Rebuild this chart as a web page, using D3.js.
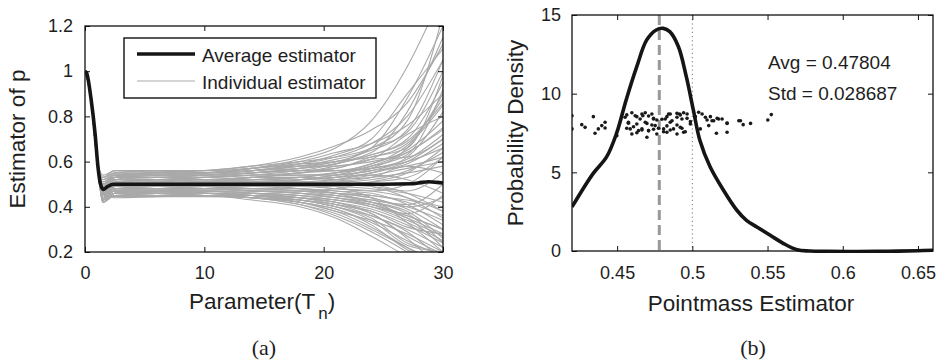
<!DOCTYPE html>
<html><head><meta charset="utf-8">
<script src="https://cdn.jsdelivr.net/npm/d3@7/dist/d3.min.js"></script>
<style>
body{margin:0;background:#fff;}
svg{display:block;}
text{font-family:"Liberation Sans",Arial,Helvetica,sans-serif;fill:#1e1e1e;}
</style></head>
<body>
<svg id="chart" width="936" height="362"></svg>
<script>
// ---------- Panel (a) data ----------
const aXTicks = [0, 10, 20, 30];
const aYTicks = [0.2, 0.4, 0.6, 0.8, 1, 1.2];
const aYTickLabels = ["0.2", "0.4", "0.6", "0.8", "1", "1.2"];
const avgX = [0, 0.15, 0.5, 0.85, 1.1, 1.3, 1.55, 1.9, 2.4, 5, 10, 15, 20, 25, 27.5, 28.2, 28.8, 29.5, 30];
const avgY = [1.0, 0.99, 0.88, 0.72, 0.57, 0.5, 0.477, 0.49, 0.5, 0.5, 0.5, 0.5, 0.5, 0.5, 0.502, 0.508, 0.511, 0.508, 0.505];
// shared start of every individual estimator
const indStartX = [0, 0.5, 0.9];
const indStartY = [1.0, 0.88, 0.66];
// sample positions for individual estimator values
const indX = [1.5, 2.5, 6, 10, 14, 18, 21, 24, 27, 30];
const individual = [
[0.53,0.55,0.55,0.55,0.57,0.61,0.66,0.78,1.02,1.35],
[0.52,0.54,0.55,0.56,0.58,0.60,0.62,0.66,0.78,1.25],
[0.50,0.55,0.56,0.55,0.56,0.58,0.61,0.65,0.74,1.05],
[0.49,0.54,0.54,0.55,0.57,0.59,0.60,0.64,0.82,1.15],
[0.51,0.53,0.55,0.54,0.55,0.57,0.59,0.63,0.70,0.95],
[0.48,0.53,0.54,0.54,0.55,0.57,0.60,0.62,0.68,0.88],
[0.50,0.52,0.53,0.54,0.56,0.58,0.58,0.61,0.72,0.80],
[0.47,0.53,0.53,0.53,0.54,0.56,0.57,0.62,0.66,0.98],
[0.49,0.52,0.54,0.53,0.54,0.55,0.58,0.60,0.64,0.75],
[0.46,0.52,0.52,0.53,0.55,0.56,0.56,0.59,0.67,0.85],
[0.48,0.52,0.53,0.52,0.53,0.55,0.57,0.61,0.62,0.70],
[0.47,0.51,0.52,0.53,0.54,0.54,0.55,0.58,0.63,0.92],
[0.45,0.51,0.52,0.52,0.53,0.55,0.56,0.57,0.60,0.66],
[0.46,0.51,0.51,0.52,0.52,0.53,0.55,0.59,0.65,0.78],
[0.47,0.50,0.52,0.51,0.53,0.54,0.54,0.56,0.58,0.62],
[0.44,0.51,0.51,0.51,0.52,0.53,0.55,0.57,0.61,0.72],
[0.46,0.50,0.51,0.52,0.51,0.52,0.53,0.55,0.59,0.68],
[0.45,0.50,0.50,0.51,0.52,0.53,0.52,0.54,0.57,0.60],
[0.44,0.50,0.51,0.50,0.51,0.52,0.54,0.56,0.62,0.82],
[0.45,0.49,0.50,0.51,0.51,0.51,0.52,0.53,0.55,0.58],
[0.46,0.50,0.50,0.50,0.51,0.52,0.53,0.57,0.64,0.74],
[0.43,0.49,0.50,0.50,0.50,0.51,0.51,0.52,0.56,0.64],
[0.44,0.49,0.49,0.50,0.51,0.50,0.52,0.55,0.60,0.70],
[0.45,0.50,0.50,0.50,0.50,0.50,0.51,0.53,0.58,0.55],
[0.43,0.49,0.50,0.49,0.50,0.51,0.50,0.51,0.53,0.62],
[0.51,0.54,0.55,0.55,0.56,0.58,0.60,0.66,0.88,1.20],
[0.52,0.55,0.54,0.55,0.56,0.59,0.63,0.70,0.90,1.10],
[0.50,0.53,0.54,0.55,0.57,0.60,0.64,0.68,0.76,0.90],
[0.48,0.53,0.54,0.54,0.56,0.57,0.59,0.66,0.73,1.00],
[0.49,0.54,0.53,0.54,0.55,0.56,0.59,0.63,0.69,0.86],
[0.42,0.45,0.45,0.45,0.43,0.40,0.35,0.27,0.18,0.10],
[0.42,0.46,0.45,0.45,0.44,0.41,0.37,0.30,0.22,0.15],
[0.43,0.45,0.46,0.45,0.44,0.42,0.39,0.33,0.25,0.18],
[0.43,0.46,0.46,0.46,0.45,0.42,0.38,0.34,0.28,0.20],
[0.44,0.46,0.46,0.45,0.44,0.43,0.40,0.36,0.30,0.22],
[0.42,0.46,0.47,0.46,0.45,0.43,0.41,0.37,0.26,0.12],
[0.44,0.47,0.46,0.46,0.46,0.44,0.42,0.39,0.33,0.25],
[0.43,0.46,0.47,0.47,0.45,0.44,0.41,0.38,0.31,0.28],
[0.45,0.47,0.47,0.46,0.46,0.45,0.43,0.40,0.35,0.22],
[0.44,0.47,0.47,0.47,0.46,0.45,0.44,0.41,0.36,0.30],
[0.45,0.47,0.48,0.47,0.47,0.46,0.44,0.42,0.38,0.26],
[0.44,0.48,0.47,0.48,0.47,0.46,0.45,0.43,0.40,0.34],
[0.45,0.48,0.48,0.47,0.47,0.47,0.46,0.44,0.39,0.30],
[0.46,0.48,0.48,0.48,0.48,0.47,0.45,0.42,0.37,0.24],
[0.45,0.48,0.49,0.48,0.48,0.47,0.46,0.45,0.42,0.36],
[0.46,0.49,0.48,0.49,0.48,0.48,0.47,0.46,0.41,0.32],
[0.45,0.49,0.49,0.49,0.49,0.48,0.47,0.45,0.43,0.40],
[0.46,0.49,0.49,0.49,0.49,0.49,0.48,0.47,0.44,0.38],
[0.44,0.48,0.49,0.49,0.48,0.48,0.46,0.44,0.40,0.44],
[0.46,0.49,0.49,0.50,0.49,0.49,0.49,0.48,0.46,0.42],
[0.43,0.45,0.45,0.46,0.44,0.42,0.39,0.32,0.21,0.14],
[0.42,0.45,0.46,0.45,0.45,0.43,0.40,0.35,0.24,0.20],
[0.43,0.46,0.45,0.46,0.44,0.43,0.41,0.36,0.29,0.16],
[0.44,0.46,0.46,0.46,0.45,0.44,0.42,0.38,0.32,0.24],
[0.44,0.47,0.46,0.47,0.46,0.44,0.43,0.40,0.34,0.27],
[0.45,0.47,0.47,0.47,0.46,0.45,0.43,0.41,0.37,0.45],
[0.45,0.48,0.48,0.48,0.47,0.46,0.45,0.43,0.41,0.50],
[0.43,0.46,0.46,0.46,0.45,0.43,0.40,0.34,0.23,0.20],
[0.44,0.47,0.47,0.46,0.45,0.44,0.42,0.37,0.27,0.19],
[0.46,0.48,0.48,0.48,0.47,0.46,0.44,0.41,0.35,0.28],
[0.48,0.52,0.52,0.51,0.50,0.48,0.46,0.42,0.36,0.30],
[0.45,0.48,0.48,0.49,0.50,0.52,0.54,0.58,0.66,0.90],
[0.50,0.53,0.53,0.52,0.51,0.50,0.48,0.47,0.50,0.62],
[0.44,0.47,0.47,0.48,0.49,0.50,0.51,0.49,0.44,0.35],
[0.49,0.52,0.52,0.52,0.52,0.51,0.49,0.44,0.33,0.20],
[0.54,0.56,0.56,0.56,0.57,0.59,0.62,0.68,0.80,1.05],
[0.53,0.56,0.555,0.56,0.58,0.62,0.67,0.74,0.86,1.12],
[0.47,0.445,0.445,0.445,0.44,0.42,0.38,0.31,0.22,0.12],
[0.46,0.44,0.445,0.45,0.44,0.41,0.36,0.29,0.20,0.10],
[0.48,0.51,0.51,0.51,0.51,0.51,0.50,0.49,0.47,0.55],
[0.47,0.50,0.505,0.51,0.52,0.52,0.53,0.54,0.52,0.46],
[0.49,0.51,0.52,0.52,0.53,0.53,0.52,0.50,0.46,0.38],
[0.46,0.49,0.48,0.49,0.47,0.47,0.48,0.51,0.55,0.66]
];
const legendLabels = ["Average estimator", "Individual estimator"];

// ---------- Panel (b) data ----------
const bXTicks = [0.45, 0.5, 0.55, 0.6, 0.65];
const bXTickLabels = ["0.45", "0.5", "0.55", "0.6", "0.65"];
const bYTicks = [0, 5, 10, 15];
const densX = [0.42,0.434,0.443,0.4496,0.456,0.463,0.4696,0.476,0.4807,0.485,0.4907,0.496,0.5007,0.505,0.5118,0.5207,0.5296,0.536,0.5429,0.5518,0.5607,0.5696,0.578,0.59,0.61,0.63,0.65,0.66];
const densY = [2.8,4.92,5.98,7.47,9.6,11.7,13.4,14.05,14.15,13.94,13.0,11.08,8.95,7.04,5.35,3.86,2.59,1.95,1.53,1.0,0.47,0.08,0.0,-0.02,-0.03,-0.02,0.02,0.05];
const dotX = [0.42,0.42,0.4265,0.4287,0.4342,0.4353,0.4375,0.4398,0.442,0.442,0.4498,0.4553,0.4575,0.4587,0.462,0.4631,0.4653,0.4642,0.4598,
0.4671,0.4687,0.4665,0.4709,0.4731,0.4742,0.4753,0.4698,0.4764,0.482,0.4842,0.4853,0.4809,0.4831,0.4875,0.4898,0.4915,0.4931,0.492,0.4898,0.4942,0.4965,0.4987,0.5042,0.5087,0.5109,0.5131,0.5053,
0.5142,0.5175,0.5198,0.516,0.5231,0.5231,0.5309,0.5338,0.5387,0.5502,0.5525,
0.4564,0.4598,0.4631,0.4665,0.4687,0.4709,0.4742,0.4698,0.4731,0.4764,0.4798,0.4831,0.4853,0.4865,0.4898,0.492,0.4942,0.4965,0.4898,0.4931,0.4953,0.4853,0.4831,0.4809,0.4775,0.4742,0.4709,0.4665,0.4631,0.4609,0.4575,0.4564,0.4987,0.502,0.5065,0.5098,0.512,0.5165,0.5231,0.532];
const dotY = [8.6,7.76,8.03,7.86,8.54,7.48,7.76,7.97,8.18,7.82,7.33,8.5,8.18,7.76,8.6,8.07,8.39,7.65,7.44,
8.6,8.18,7.76,7.65,8.71,8.39,7.97,7.23,7.44,8.39,8.71,8.18,7.76,7.55,7.76,8.5,8.71,8.39,7.86,7.44,7.55,8.71,8.07,8.82,8.5,7.97,8.28,7.76,
8.28,8.39,8.39,7.48,8.14,7.55,8.28,8.03,8.11,8.33,8.67,
8.65,8.79,8.54,8.71,8.79,8.58,8.43,8.11,8.01,8.33,8.37,8.54,8.71,8.28,8.75,8.65,8.79,8.43,8.01,7.8,7.58,7.69,7.95,7.58,7.8,7.74,7.65,7.69,7.52,7.9,8.12,7.8,8.22,8.54,8.71,8.33,8.54,8.43,8.11,8.28];
const avgValue = 0.47804;
const trueValue = 0.5;
const statLabels = ["Avg = 0.47804", "Std = 0.028687"];

// ---------- drawing ----------
const svg = d3.select("#chart");
const defs = svg.append("defs");

function boxAxes(g, x, y, w, h, xt, xl, yt, yl, padX, padY) {
  const bottom = d3.axisBottom(x).tickValues(xt).tickFormat((d,i)=>xl[i]).tickSize(-5).tickSizeOuter(0).tickPadding(padX);
  const top = d3.axisTop(x).tickValues(xt).tickFormat("").tickSize(-5).tickSizeOuter(0);
  const left = d3.axisLeft(y).tickValues(yt).tickFormat((d,i)=>yl[i]).tickSize(-5).tickSizeOuter(0).tickPadding(padY);
  const right = d3.axisRight(y).tickValues(yt).tickFormat("").tickSize(-5).tickSizeOuter(0);
  const gb = g.append("g").attr("transform", `translate(0,${h})`).call(bottom);
  const gt = g.append("g").call(top);
  const gl = g.append("g").call(left);
  const gr = g.append("g").attr("transform", `translate(${w},0)`).call(right);
  [gb, gt, gl, gr].forEach(a => {
    a.select(".domain").remove();
    a.selectAll("line").attr("stroke", "#111").attr("stroke-width", 1);
    a.selectAll("text").style("font-family", '"Liberation Sans",Arial,sans-serif').style("font-size", "18px").attr("fill", "#1e1e1e");
  });
  g.append("rect").attr("x", 0).attr("y", 0).attr("width", w).attr("height", h)
    .attr("fill", "none").attr("stroke", "#111").attr("stroke-width", 1.3);
}

// Panel (a)
{
  const L = 85, T = 26, W = 358, H = 226;
  const g = svg.append("g").attr("transform", `translate(${L},${T})`);
  const x = d3.scaleLinear().domain([0, 30]).range([0, W]);
  const y = d3.scaleLinear().domain([0.2, 1.2]).range([H, 0]);
  defs.append("clipPath").attr("id", "clipA")
    .append("rect").attr("x", 0).attr("y", 0).attr("width", W).attr("height", H);
  const plot = g.append("g").attr("clip-path", "url(#clipA)");
  const lineGen = d3.line().x(d => x(d[0])).y(d => y(d[1])).curve(d3.curveMonotoneX);
  individual.forEach(vals => {
    const pts = indStartX.map((v, i) => [v, indStartY[i]]).concat(indX.map((v, i) => [v, vals[i]]));
    plot.append("path").attr("d", lineGen(pts)).attr("fill", "none")
      .attr("stroke", "#a9a9a9").attr("stroke-width", 1.1);
  });
  plot.append("path").attr("d", lineGen(avgX.map((v, i) => [v, avgY[i]])))
    .attr("fill", "none").attr("stroke", "#151515").attr("stroke-width", 3.6).attr("stroke-linejoin", "round");
  boxAxes(g, x, y, W, H, aXTicks, aXTicks.map(String), aYTicks, aYTickLabels, 14, 12);

  // legend
  const lg = svg.append("g");
  lg.append("rect").attr("x", 124).attr("y", 38).attr("width", 252).attr("height", 60)
    .attr("fill", "#fff").attr("stroke", "#111").attr("stroke-width", 1.4);
  lg.append("line").attr("x1", 137).attr("x2", 195).attr("y1", 54).attr("y2", 54)
    .attr("stroke", "#151515").attr("stroke-width", 3.6);
  lg.append("line").attr("x1", 137).attr("x2", 195).attr("y1", 81).attr("y2", 81)
    .attr("stroke", "#a9a9a9").attr("stroke-width", 1.1);
  lg.append("text").attr("x", 202).attr("y", 62).style("font-size", "19px").text(legendLabels[0]);
  lg.append("text").attr("x", 202).attr("y", 89).style("font-size", "19px").text(legendLabels[1]);

  // axis titles
  svg.append("text").attr("transform", "translate(25,139) rotate(-90)").attr("text-anchor", "middle")
    .style("font-size", "22.5px").text("Estimator of p");
  const xt = svg.append("text").attr("x", 262).attr("y", 309).attr("text-anchor", "middle").style("font-size", "22.5px");
  xt.append("tspan").text("Parameter(T");
  xt.append("tspan").attr("dy", 10).attr("dx", 3).style("font-size", "17px").text("n");
  xt.append("tspan").attr("dy", -10).text(")");
  svg.append("text").attr("x", 264).attr("y", 355).attr("text-anchor", "middle")
    .style("font-size", "22px").style("font-family", '"Liberation Serif",serif').text("(a)");
}

// Panel (b)
{
  const L = 572, T = 15, W = 361, H = 236;
  const g = svg.append("g").attr("transform", `translate(${L},${T})`);
  const x = d3.scaleLinear().domain([0.42, 0.66]).range([0, W]);
  const y = d3.scaleLinear().domain([0, 15]).range([H, 0]);
  defs.append("clipPath").attr("id", "clipB")
    .append("rect").attr("x", 0).attr("y", -2).attr("width", W).attr("height", H + 4);
  const plot = g.append("g").attr("clip-path", "url(#clipB)");
  plot.append("line").attr("x1", x(trueValue)).attr("x2", x(trueValue)).attr("y1", 0).attr("y2", H)
    .attr("stroke", "#777").attr("stroke-width", 1).attr("stroke-dasharray", "1.2,3");
  plot.append("line").attr("x1", x(avgValue)).attr("x2", x(avgValue)).attr("y1", 0).attr("y2", H)
    .attr("stroke", "#999").attr("stroke-width", 3).attr("stroke-dasharray", "10,5");
  plot.selectAll("circle").data(dotX).enter().append("circle")
    .attr("cx", d => x(d)).attr("cy", (d, i) => y(dotY[i])).attr("r", 1.8).attr("fill", "#1a1a1a");
  const lineGen = d3.line().x(d => x(d[0])).y(d => y(d[1])).curve(d3.curveCatmullRom);
  plot.append("path").attr("d", lineGen(densX.map((v, i) => [v, densY[i]])))
    .attr("fill", "none").attr("stroke", "#151515").attr("stroke-width", 3.6).attr("stroke-linejoin", "round");
  boxAxes(g, x, y, W, H, bXTicks, bXTickLabels, bYTicks, bYTicks.map(String), 15, 11);

  svg.append("text").attr("x", 768).attr("y", 69).style("font-size", "19px").text(statLabels[0]);
  svg.append("text").attr("x", 768).attr("y", 100).style("font-size", "19px").text(statLabels[1]);
  svg.append("text").attr("transform", "translate(523,133) rotate(-90)").attr("text-anchor", "middle")
    .style("font-size", "22.5px").text("Probability Density");
  svg.append("text").attr("x", 751).attr("y", 311).attr("text-anchor", "middle")
    .style("font-size", "22.5px").text("Pointmass Estimator");
  svg.append("text").attr("x", 753).attr("y", 355).attr("text-anchor", "middle")
    .style("font-size", "22px").style("font-family", '"Liberation Serif",serif').text("(b)");
}
</script>
</body></html>
